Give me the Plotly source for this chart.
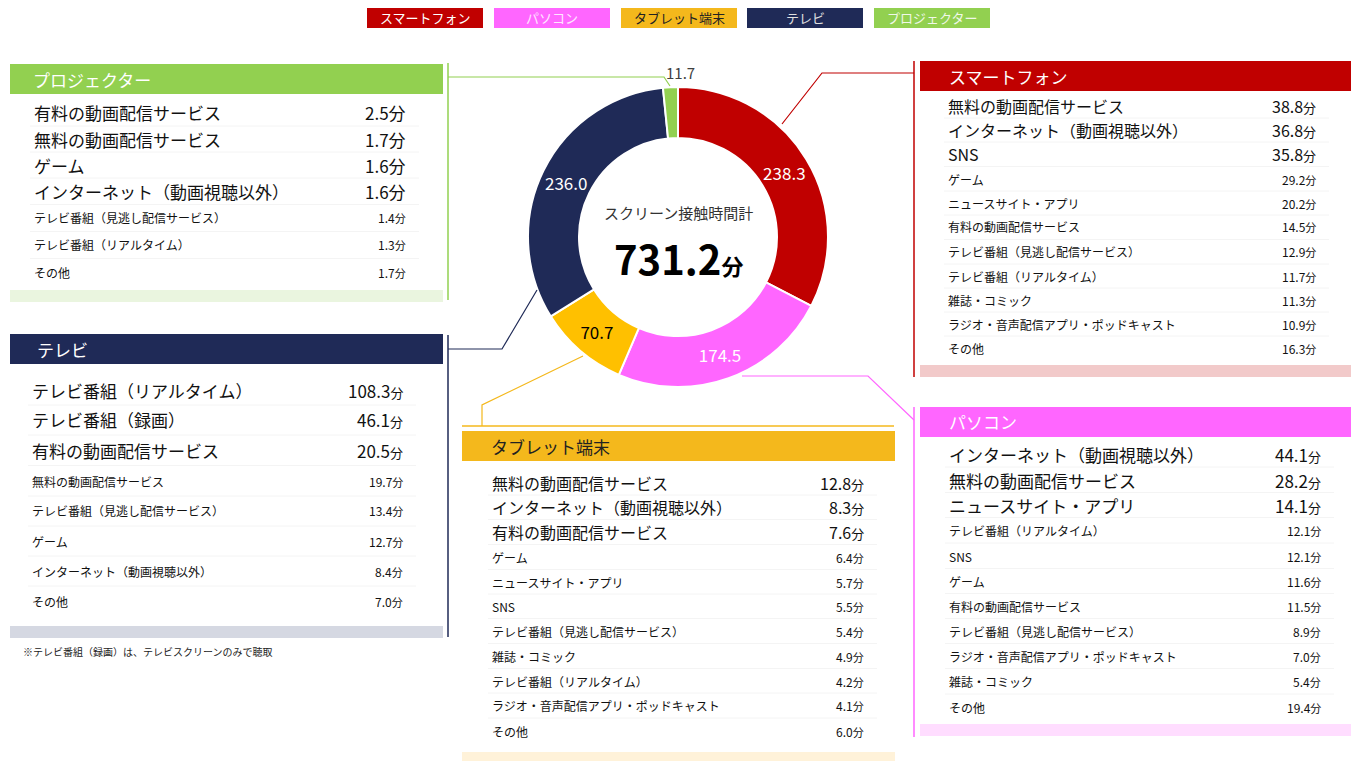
import plotly.graph_objects as go

# page body has an 8px default margin; layout coordinates below are page pixels
OFF = 8
W, H = 1359 - OFF, 761 - OFF

# ---------------- data ----------------
devices = ["スマートフォン", "パソコン", "タブレット端末", "テレビ", "プロジェクター"]
device_totals = [238.3, 174.5, 70.7, 236.0, 11.7]
device_colors = ["#C00000", "#FF66FF", "#FFC000", "#1F2A57", "#92D050"]

sp_labels = ["無料の動画配信サービス", "インターネット（動画視聴以外）", "SNS", "ゲーム", "ニュースサイト・アプリ",
             "有料の動画配信サービス", "テレビ番組（見逃し配信サービス）", "テレビ番組（リアルタイム）",
             "雑誌・コミック", "ラジオ・音声配信アプリ・ポッドキャスト", "その他"]
sp_values = [38.8, 36.8, 35.8, 29.2, 20.2, 14.5, 12.9, 11.7, 11.3, 10.9, 16.3]

pc_labels = ["インターネット（動画視聴以外）", "無料の動画配信サービス", "ニュースサイト・アプリ",
             "テレビ番組（リアルタイム）", "SNS", "ゲーム", "有料の動画配信サービス",
             "テレビ番組（見逃し配信サービス）", "ラジオ・音声配信アプリ・ポッドキャスト", "雑誌・コミック", "その他"]
pc_values = [44.1, 28.2, 14.1, 12.1, 12.1, 11.6, 11.5, 8.9, 7.0, 5.4, 19.4]

tab_labels = ["無料の動画配信サービス", "インターネット（動画視聴以外）", "有料の動画配信サービス", "ゲーム",
              "ニュースサイト・アプリ", "SNS", "テレビ番組（見逃し配信サービス）", "雑誌・コミック",
              "テレビ番組（リアルタイム）", "ラジオ・音声配信アプリ・ポッドキャスト", "その他"]
tab_values = [12.8, 8.3, 7.6, 6.4, 5.7, 5.5, 5.4, 4.9, 4.2, 4.1, 6.0]

tv_labels = ["テレビ番組（リアルタイム）", "テレビ番組（録画）", "有料の動画配信サービス", "無料の動画配信サービス",
             "テレビ番組（見逃し配信サービス）", "ゲーム", "インターネット（動画視聴以外）", "その他"]
tv_values = [108.3, 46.1, 20.5, 19.7, 13.4, 12.7, 8.4, 7.0]

pj_labels = ["有料の動画配信サービス", "無料の動画配信サービス", "ゲーム", "インターネット（動画視聴以外）",
             "テレビ番組（見逃し配信サービス）", "テレビ番組（リアルタイム）", "その他"]
pj_values = [2.5, 1.7, 1.6, 1.6, 1.4, 1.3, 1.7]

center_title = "スクリーン接触時間計"
unit = "分"
footnote = "※テレビ番組（録画）は、テレビスクリーンのみで聴取"

FONT = "Noto Sans CJK JP"

def X(px):
    return (px - OFF) / W

def Y(py):
    return 1 - (py - OFF) / H

fig = go.Figure()

# ---------------- donut ----------------
cx, cy, R = 678, 237, 150
slice_text = [f"{v:.1f}" for v in device_totals[:-1]] + [""]
fig.add_trace(go.Pie(
    labels=devices, values=device_totals, sort=False, direction="clockwise", rotation=0,
    hole=0.66, marker=dict(colors=device_colors, line=dict(color="white", width=2)),
    text=slice_text, textinfo="text", textposition="inside", insidetextorientation="horizontal",
    textfont=dict(family=FONT, size=17, color=["white", "white", "black", "white", "white"]),
    domain=dict(x=[X(cx - R), X(cx + R)], y=[Y(cy + R), Y(cy - R)]),
    showlegend=False, hoverinfo="skip",
))

shapes = []
ann = []

def rect(x0, y0, x1, y1, color):
    shapes.append(dict(type="rect", xref="paper", yref="paper", x0=X(x0), x1=X(x1), y0=Y(y1), y1=Y(y0),
                       fillcolor=color, line=dict(width=0), layer="below"))

def path(points, color, width=1.2):
    d = "M " + " L ".join(f"{X(px)},{Y(py)}" for px, py in points)
    shapes.append(dict(type="path", xref="paper", yref="paper", path=d, line=dict(color=color, width=width)))

def text(x, y, s, size, color="#111111", anchor="left"):
    ann.append(dict(x=X(x), y=Y(y), xref="paper", yref="paper", text=s, showarrow=False, borderpad=0,
                    xanchor=anchor, yanchor="middle", font=dict(family=FONT, size=size, color=color)))

# center text
total = sum(device_totals)
text(cx, 213, center_title, 15, "#333333", "center")
ann.append(dict(x=X(cx), y=Y(258), xref="paper", yref="paper", showarrow=False, xanchor="center", yanchor="middle",
                borderpad=0,
                text=f"<b>{total:.1f}</b><span style='font-size:22px'><b>{unit}</b></span>",
                font=dict(family=FONT, size=40, color="#000000")))
# projector value outside
text(680, 72, f"{device_totals[4]:.1f}", 15, "#404040", "center")

# ---------------- legend boxes ----------------
leg_x = [367, 494, 621, 747, 874]
leg_txt = ["white", "#FFE6FF", "#222222", "#E0E0E0", "#F0F8E8"]
for i, d in enumerate(devices):
    rect(leg_x[i], 8, leg_x[i] + 116, 28, device_colors[i] if i != 2 else "#F4B81C")
    text(leg_x[i] + 58, 18, d, 13, leg_txt[i], "center")

# ---------------- panels ----------------
def panel(x0, x1, top, title, title_color, hdr_color, foot_color, foot_y, label_x, val_x, rows_y,
          labels, values, n_big, big_size, small_size, title_x, big_unit_same=False):
    rect(x0, top, x1, top + 30, hdr_color)
    text(title_x, top + 15, title, 17, title_color)
    for i, (lab, v) in enumerate(zip(labels, values)):
        y = rows_y[i]
        big = i < n_big
        sz = big_size if big else small_size
        usz = (big_size if big_unit_same else 13) if big else 11
        text(label_x, y, lab, sz)
        ann.append(dict(x=X(val_x), y=Y(y), xref="paper", yref="paper", showarrow=False, borderpad=0,
                        xanchor="right", yanchor="middle",
                        text=f"{v:.1f}<span style='font-size:{usz}px'>{unit}</span>",
                        font=dict(family=FONT, size=sz, color="#111111")))
        if i < len(labels) - 1:
            ymid = (rows_y[i] + rows_y[i + 1]) / 2
            shapes.append(dict(type="line", xref="paper", yref="paper", x0=X(label_x - 3), x1=X(val_x + 12),
                               y0=Y(ymid), y1=Y(ymid), line=dict(color="#F4F4F4", width=1), layer="below"))
    rect(x0, foot_y, x1, foot_y + 12, foot_color)

# projector
panel(10, 443, 64, devices[4], "white", "#92D050", "#EAF5DF", 290, 33, 407,
      [113, 139, 165, 191, 218, 245, 272], pj_labels, pj_values, 4, 17, 12, 32, big_unit_same=True)
# tv
panel(10, 443, 334, devices[3], "white", "#1F2A57", "#D5D8E2", 626, 31, 404,
      [390, 420, 450, 481, 511, 541, 571, 601], tv_labels, tv_values, 3, 17, 12, 36)
# smartphone
panel(920, 1353, 61, devices[0], "white", "#C00000", "#F2CACA", 365, 947, 1317,
      [106, 130, 154, 179, 203, 227, 252, 276, 300, 324, 348], sp_labels, sp_values, 3, 16, 12, 948)
# pc
panel(920, 1353, 407, devices[1], "white", "#FF66FF", "#FFDDFF", 724, 948, 1322,
      [454, 480, 505, 530, 556, 581, 606, 631, 656, 681, 707], pc_labels, pc_values, 3, 17, 12, 948)
# tablet
panel(462, 895, 431, devices[2], "#222222", "#F4B81C", "#FFF2D9", 752, 491, 865,
      [483, 507, 532, 557, 582, 606, 631, 656, 681, 705, 731], tab_labels, tab_values, 3, 16, 12, 490)

text(22, 651, footnote, 10, "#222222")

# ---------------- connectors / side rules ----------------
path([(448, 63), (448, 300)], "#92D050", 1.5)
path([(448, 77), (664, 77), (670, 86)], "#92D050", 1.2)
path([(448, 335), (448, 637)], "#1F2A57", 1.5)
path([(448, 349), (502, 349), (537, 290)], "#1F2A57", 1.2)
path([(914, 61), (914, 377)], "#C00000", 1.5)
path([(782, 124), (822, 73), (914, 73)], "#C00000", 1.2)
path([(914, 407), (914, 737)], "#FF66FF", 1.5)
path([(742, 376), (868, 376), (914, 420)], "#FF66FF", 1.2)
path([(583, 356), (482, 405), (482, 426)], "#F4B81C", 1.2)
path([(462, 426), (894, 426)], "#F4B81C", 1.5)

fig.update_layout(
    width=W, height=H, margin=dict(l=0, r=0, t=0, b=0),
    paper_bgcolor="white", plot_bgcolor="white",
    shapes=shapes, annotations=ann, showlegend=False,
    font=dict(family=FONT),
)

fig.write_html("out.html")
